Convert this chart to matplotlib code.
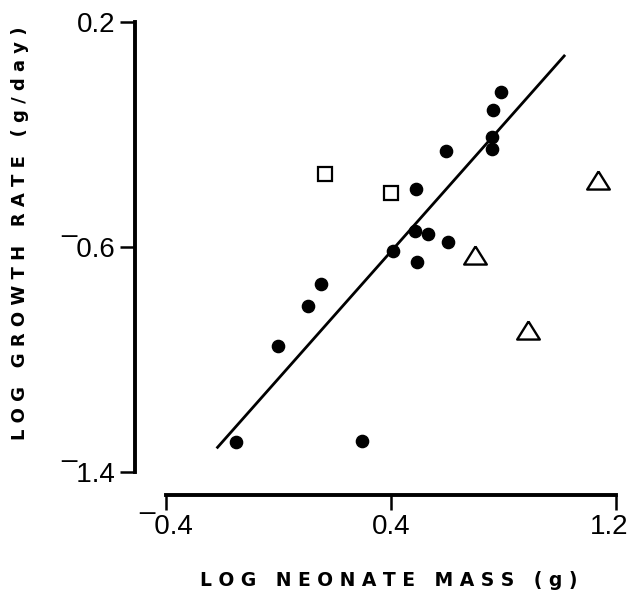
import numpy as np
import matplotlib.pyplot as plt
from matplotlib.transforms import ScaledTranslation

plt.rcParams['font.family'] = ['Liberation Sans', 'DejaVu Sans']

# log neonate mass (g) vs log growth rate (g/day)
circle_x = [0.791, 0.764, 0.758, 0.760, 0.597, 0.489, 0.485, 0.533,
            0.602, 0.406, 0.492, 0.150, 0.106, -0.002, -0.152, 0.297]
circle_y = [-0.050, -0.113, -0.208, -0.253, -0.259, -0.395, -0.542, -0.555,
            -0.581, -0.614, -0.654, -0.733, -0.810, -0.951, -1.292, -1.290]
square_x = [0.165, 0.399]
square_y = [-0.342, -0.409]
triangle_x = [0.697, 0.888, 1.137]
triangle_y = [-0.630, -0.894, -0.362]

# fitted regression line, endpoints
fit_x = [-0.220, 1.019]
fit_y = [-1.316, 0.083]

x_ticks = [-0.4, 0.4, 1.2]
x_ticklabels = ['\u00af0.4', '0.4', '1.2']
y_ticks = [0.2, -0.6, -1.4]
y_ticklabels = ['0.2', '\u00af0.6', '\u00af1.4']

fig = plt.figure(figsize=(6.30, 5.97), dpi=100)
ax = fig.add_axes([166/630, 125/597, 450/630, 450/597])

ax.plot(fit_x, fit_y, color='black', lw=2.0, solid_capstyle='butt', zorder=2)
ax.plot(circle_x, circle_y, 'o', color='black', ms=8.8, zorder=3)
ax.plot(square_x, square_y, 's', mfc='white', mec='black', mew=1.6, ms=10.5, zorder=3)
tri = [(0, 0.8), (-1, -0.8), (1, -0.8), (0, 0.8)]
ax.plot(triangle_x, triangle_y, marker=tri, ls='none', mfc='white', mec='black',
        mew=1.7, ms=16.3, zorder=3)

ax.set_xlim(-0.4, 1.2)
ax.set_ylim(-1.4, 0.2)

for side in ['top', 'right']:
    ax.spines[side].set_visible(False)
ax.spines['left'].set_position(('outward', 22.3))
ax.spines['bottom'].set_position(('outward', 16.6))
ax.spines['left'].set_bounds(-1.4, 0.2)
ax.spines['bottom'].set_bounds(-0.4, 1.2)
for side in ['left', 'bottom']:
    ax.spines[side].set_linewidth(2.8)
    ax.spines[side].set_capstyle('projecting')

ax.set_xticks(x_ticks)
ax.set_xticklabels(x_ticklabels)
ax.set_yticks(y_ticks)
ax.set_yticklabels(y_ticklabels)
ax.tick_params(axis='both', length=11, width=1.8, labelsize=20, color='black')
ax.tick_params(axis='y', pad=3.5)
ax.tick_params(axis='x', pad=3)

# keep the last x label inside the figure
last = ax.get_xticklabels()[-1]
last.set_transform(last.get_transform() + ScaledTranslation(-5/72, 0, fig.dpi_scale_trans))

fig.text(389/630, 1 - 581/597, 'L O G   N E O N A T E   M A S S   ( g )',
         ha='center', va='center', fontsize=13.5, fontweight='bold',
         family='DejaVu Sans')
fig.text(20/630, 1 - 233/597, 'L O G   G R O W T H   R A T E   ( g / d a y )',
         ha='center', va='center', rotation=90, fontsize=13, fontweight='bold',
         family='DejaVu Sans')

fig.savefig('out.png', dpi=100, facecolor='white')
